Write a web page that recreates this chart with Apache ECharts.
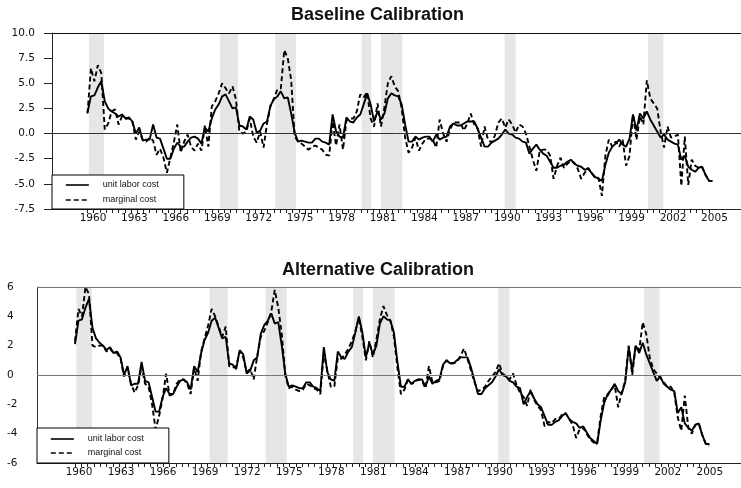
<!DOCTYPE html>
<html>
<head>
<meta charset="utf-8">
<script src="https://cdn.jsdelivr.net/npm/echarts@6.0.0/dist/echarts.min.js"></script>
<style>
  html, body { margin: 0; padding: 0; background: #fff; }
  #chart { width: 741px; height: 488px; }
</style>
</head>
<body>
<div id="chart"></div>
<script>
// quarterly observations, first one is 1960Q1
const firstYear = 1960;

// unit labor cost (same series in both panels)
const ulc = [
  2.1, 3.7, 3.8, 4.6,     // 1960
  5.2, 3.2, 2.5, 2.2,     // 1961
  2.0, 1.7, 1.9, 1.5,     // 1962
  1.6, 1.2, 0.0, 0.6,     // 1963
  -0.7, -0.6, -0.6, 0.9,  // 1964
  -0.4, -0.5, -1.5, -2.5, // 1965
  -2.5, -1.5, -0.9, -1.3, // 1966
  -1.3, -0.8, -0.4, -0.3, // 1967
  -0.5, -1.0, 0.6, 0.2,   // 1968
  1.5, 2.4, 2.9, 3.7,     // 1969
  3.9, 3.2, 2.5, 2.6,     // 1970
  0.8, 0.7, 0.4, 1.7,     // 1971
  1.4, 0.1, 0.3, 1.0,     // 1972
  1.2, 2.8, 3.4, 3.7,     // 1973
  4.2, 3.5, 3.6, 2.0,     // 1974
  0.1, -0.8, -0.7, -0.8,  // 1975
  -0.9, -0.9, -0.5, -0.5, // 1976
  -0.8, -0.9, -1.1, 1.9,  // 1977
  0.2, -0.3, -0.4, 1.6,   // 1978
  1.2, 1.1, 1.6, 1.9,     // 1979
  2.9, 4.0, 2.9, 1.2,     // 1980
  2.2, 1.4, 2.0, 3.5,     // 1981
  4.0, 3.8, 3.7, 2.9,     // 1982
  0.9, -0.8, -0.8, -0.3,  // 1983
  -0.6, -0.4, -0.3, -0.3, // 1984
  -0.8, -0.1, -0.6, -0.4, // 1985
  -0.3, 0.7, 1.0, 0.8,    // 1986
  0.8, 1.0, 1.2, 1.2,     // 1987
  1.2, 0.5, -0.4, -1.3,   // 1988
  -1.3, -0.9, -0.7, -0.5, // 1989
  -0.1, 0.4, 0.0, -0.1,   // 1990
  -0.4, -0.5, -0.8, -0.9, // 1991
  -2.0, -1.5, -1.1, -1.6, // 1992
  -2.0, -2.2, -2.8, -3.4, // 1993
  -3.4, -3.2, -3.1, -2.8, // 1994
  -2.6, -3.0, -3.2, -3.3, // 1995
  -3.6, -3.5, -3.9, -4.3, // 1996
  -4.5, -4.7, -3.1, -1.9, // 1997
  -1.3, -1.0, -0.6, -1.1, // 1998
  -1.3, -0.5, 1.9, 0.3,   // 1999
  2.0, 1.5, 2.2, 1.4,     // 2000
  0.8, 0.2, -0.4, -0.1,   // 2001
  -0.6, -0.8, -1.0, -1.1, // 2002
  -2.6, -2.2, -3.3, -3.6, // 2003
  -3.8, -3.4, -3.3, -4.1, // 2004
  -4.7, -4.7              // 2005
];

// marginal cost, baseline calibration
const mcBaseline = [
  2.0, 6.5, 5.2, 6.8,     // 1960
  6.0, 0.4, 1.0, 2.2,     // 1961
  2.4, 0.9, 1.7, 1.5,     // 1962
  1.5, 1.2, -0.6, 0.2,    // 1963
  -0.6, -0.8, -0.4, -0.7, // 1964
  -2.1, -1.5, -2.4, -3.9, // 1965
  -2.4, -0.9, 0.9, -1.9,  // 1966
  -0.8, -0.1, -1.3, -1.7, // 1967
  -1.0, -1.7, 0.8, -1.3,  // 1968
  2.7, 3.2, 4.0, 5.0,     // 1969
  4.5, 4.0, 4.7, 3.4,     // 1970
  0.2, 0.0, 0.2, 1.5,     // 1971
  -0.3, -0.9, 0.2, -1.4,  // 1972
  1.0, 2.7, 3.5, 4.4,     // 1973
  4.5, 8.3, 7.5, 5.3,     // 1974
  -0.3, -0.8, -1.0, -1.3, // 1975
  -1.6, -1.3, -1.2, -1.4, // 1976
  -1.6, -2.1, -2.2, 1.2,  // 1977
  -1.2, 0.9, -1.6, 1.3,   // 1978
  1.5, 1.5, 2.2, 3.9,     // 1979
  3.6, 4.1, 1.5, 0.7,     // 1980
  3.0, 0.7, 2.6, 5.0,     // 1981
  5.7, 4.7, 4.2, 2.5,     // 1982
  -0.4, -1.9, -1.4, -0.4, // 1983
  -1.7, -1.0, -0.5, -0.5, // 1984
  -0.6, -1.4, 1.4, 0.0,   // 1985
  -0.8, 0.4, 1.1, 1.1,    // 1986
  1.1, 0.3, 1.0, 2.0,     // 1987
  0.9, 0.5, -1.3, 0.7,    // 1988
  -0.6, -0.9, -0.2, 1.1,  // 1989
  1.5, 0.6, 1.4, 0.9,     // 1990
  0.1, 0.9, 0.7, 0.0,     // 1991
  -1.3, -2.6, -3.7, -1.7, // 1992
  -1.6, -1.6, -2.2, -4.5, // 1993
  -3.2, -2.4, -3.4, -3.0, // 1994
  -2.7, -2.9, -3.5, -4.5, // 1995
  -3.9, -3.4, -3.9, -4.4, // 1996
  -4.4, -6.2, -2.2, -0.6, // 1997
  -1.3, -0.8, -1.3, -0.6, // 1998
  -3.2, -2.2, 1.9, -0.6,  // 1999
  1.7, 0.9, 5.3, 3.5,     // 2000
  3.0, 2.5, 0.2, -1.4,    // 2001
  0.7, -0.4, -0.3, -0.1,  // 2002
  -5.2, -0.3, -5.1, -2.6, // 2003
  -3.2, -3.4, -3.3, -4.1, // 2004
  -4.7, -4.7              // 2005
];

// marginal cost, alternative calibration
const mcAlternative = [
  2.3, 4.5, 4.0, 6.0,     // 1960
  5.5, 2.0, 1.9, 2.0,     // 1961
  2.0, 1.6, 1.8, 1.5,     // 1962
  1.5, 1.1, -0.1, 0.5,    // 1963
  -0.6, -1.2, -0.7, 0.6,  // 1964
  -0.6, -0.8, -2.0, -3.7, // 1965
  -2.8, -1.6, 0.1, -1.4,  // 1966
  -1.3, -0.6, -0.3, -0.3, // 1967
  -0.6, -1.3, 0.5, -0.4,  // 1968
  1.6, 2.5, 3.4, 4.5,     // 1969
  4.0, 3.3, 2.6, 3.3,     // 1970
  0.6, 0.5, 0.6, 1.6,     // 1971
  1.2, 0.2, 0.4, -0.3,    // 1972
  1.3, 2.6, 3.0, 3.6,     // 1973
  4.3, 5.8, 4.6, 2.8,     // 1974
  0.0, -0.9, -0.8, -1.0,  // 1975
  -1.1, -1.0, -0.6, -0.7, // 1976
  -0.9, -1.0, -1.3, 1.5,  // 1977
  0.3, -0.8, -0.8, 1.2,   // 1978
  1.1, 1.4, 1.8, 2.3,     // 1979
  3.0, 3.9, 2.6, 1.0,     // 1980
  2.3, 1.2, 2.4, 3.8,     // 1981
  4.7, 4.1, 3.7, 2.6,     // 1982
  0.5, -1.3, -1.0, -0.3,  // 1983
  -0.6, -0.5, -0.3, -0.4, // 1984
  -0.9, 0.6, -0.5, -0.5,  // 1985
  -0.4, 0.6, 1.0, 0.8,    // 1986
  0.8, 0.9, 1.3, 1.8,     // 1987
  1.1, 0.3, -0.5, -1.1,   // 1988
  -1.0, -0.8, -0.4, -0.1, // 1989
  0.2, 0.8, 0.1, -0.1,    // 1990
  -0.3, 0.1, -0.7, -1.2,  // 1991
  -1.5, -2.1, -1.0, -1.7, // 1992
  -2.1, -2.4, -3.5, -3.2, // 1993
  -3.3, -3.0, -3.0, -2.7, // 1994
  -2.6, -3.0, -3.4, -4.3, // 1995
  -3.7, -3.6, -4.0, -4.4, // 1996
  -4.6, -4.6, -2.8, -1.5, // 1997
  -1.4, -1.0, -0.7, -2.2, // 1998
  -1.2, -0.4, 2.0, 0.0,   // 1999
  2.0, 1.7, 3.6, 2.8,     // 2000
  1.2, 0.4, 0.1, -0.2,    // 2001
  -0.5, -0.8, -0.8, -1.2, // 2002
  -2.9, -3.8, -1.4, -3.6, // 2003
  -4.0, -3.4, -3.3, -4.1, // 2004
  -4.7, -4.8              // 2005
];

// shaded recession periods (start, end) in years
const recessions = [
  [1960.1, 1961.2], [1969.6, 1970.9], [1973.6, 1975.1],
  [1979.85, 1980.55], [1981.25, 1982.8], [1990.2, 1991.0], [2000.6, 2001.7]
];

const yearLabels = [1960, 1963, 1966, 1969, 1972, 1975, 1978, 1981, 1984, 1987, 1990, 1993, 1996, 1999, 2002, 2005];
const legendNames = ['unit labor cost', 'marginal cost'];

const dates = ulc.map((v, i) => firstYear + i / 4);
const pairs = arr => arr.map((v, i) => [dates[i], v]);
const bands = recessions.map(r => [{ xAxis: r[0] }, { xAxis: r[1] }]);

// small ticks along the date axis
const ticks = [];
for (let t = 1960; t <= 2005.3; t += 0.45) ticks.push(+t.toFixed(3));

const axisFont = { fontFamily: 'DejaVu Sans', fontSize: 10.5, color: '#111' };

function dateAxis(gridIndex, min, max, shift) {
  return {
    type: 'value', gridIndex: gridIndex, min: min, max: max,
    axisLine: { onZero: false, lineStyle: { color: '#222', width: 1 } },
    axisTick: { show: true, length: 4, customValues: ticks, lineStyle: { color: '#222' } },
    axisLabel: Object.assign({
      customValues: yearLabels,
      formatter: v => String(Math.round(v)),
      margin: 4,
      padding: [0, 0, 0, shift]
    }, axisFont),
    splitLine: { show: false }
  };
}

function panelSeries(gridIndex, mc, zeroColor, topValue, topColor) {
  return [
    {
      name: 'marginal cost', type: 'line', xAxisIndex: gridIndex, yAxisIndex: gridIndex,
      data: pairs(mc), symbol: 'none',
      lineStyle: { color: '#000', width: 1.9, type: [5, 3] },
      itemStyle: { color: '#000' },
      markArea: { silent: true, itemStyle: { color: '#e6e6e6' }, data: bands }
    },
    {
      name: 'unit labor cost', type: 'line', xAxisIndex: gridIndex, yAxisIndex: gridIndex,
      data: pairs(ulc), symbol: 'none',
      lineStyle: { color: '#000', width: 1.9 },
      itemStyle: { color: '#000' },
      markLine: {
        silent: true, symbol: ['none', 'none'], label: { show: false },
        lineStyle: { type: 'solid', width: 1 },
        data: [
          { yAxis: 0, lineStyle: { color: zeroColor } },
          { yAxis: topValue, lineStyle: { color: topColor } }
        ]
      }
    }
  ];
}

function legendBox(left, top, padding, gap) {
  return {
    data: legendNames, orient: 'vertical', left: left, top: top,
    padding: padding, itemWidth: 23, itemHeight: 10, itemGap: gap,
    borderColor: '#000', borderWidth: 1, backgroundColor: '#fff',
    selectedMode: false,
    // line-only keys, no marker dot
    itemStyle: { color: 'rgba(0,0,0,0)', borderWidth: 0, opacity: 0 },
    lineStyle: { width: 1.6 },
    textStyle: { fontFamily: 'Liberation Sans', fontSize: 9, color: '#111', lineHeight: 10, padding: [0, 0, 0, 9] }
  };
}

const chart = echarts.init(document.getElementById('chart'));
chart.setOption({
  animation: false,
  backgroundColor: '#fff',
  title: [
    { text: 'Baseline Calibration', left: 291, top: 6, padding: 0,
      textStyle: { fontFamily: 'Liberation Sans', fontSize: 18, fontWeight: 'bold', color: '#111' } },
    { text: 'Alternative Calibration', left: 282, top: 261, padding: 0,
      textStyle: { fontFamily: 'Liberation Sans', fontSize: 18, fontWeight: 'bold', color: '#111' } }
  ],
  grid: [
    { left: 52, right: -1, top: 33, height: 176 },
    { left: 37, right: -1, top: 287, height: 176 }
  ],
  xAxis: [
    dateAxis(0, 1957.43, 2007.32, 11),
    dateAxis(1, 1957.29, 2007.51, 8)
  ],
  yAxis: [
    {
      type: 'value', gridIndex: 0, min: -7.5, max: 10, interval: 2.5,
      axisLine: { show: true, lineStyle: { color: '#222' } },
      axisTick: { show: true, length: 8, lineStyle: { color: '#222' } },
      axisLabel: Object.assign({ formatter: v => v.toFixed(1), margin: 17 }, axisFont),
      splitLine: { show: false }
    },
    {
      type: 'value', gridIndex: 1, min: -6, max: 6, interval: 2,
      axisLine: { show: true, lineStyle: { color: '#333' } },
      axisTick: { show: false },
      axisLabel: Object.assign({ align: 'left', margin: 30 }, axisFont),
      splitLine: { show: false }
    }
  ],
  legend: [
    legendBox(52, 175, [5, 25, 4, 13], 5),
    legendBox(37, 428, [6, 25, 5, 13], 4)
  ],
  series: [].concat(
    panelSeries(0, mcBaseline, '#333', 10, '#111'),
    panelSeries(1, mcAlternative, '#777', 6, '#777')
  )
});
</script>
</body>
</html>
